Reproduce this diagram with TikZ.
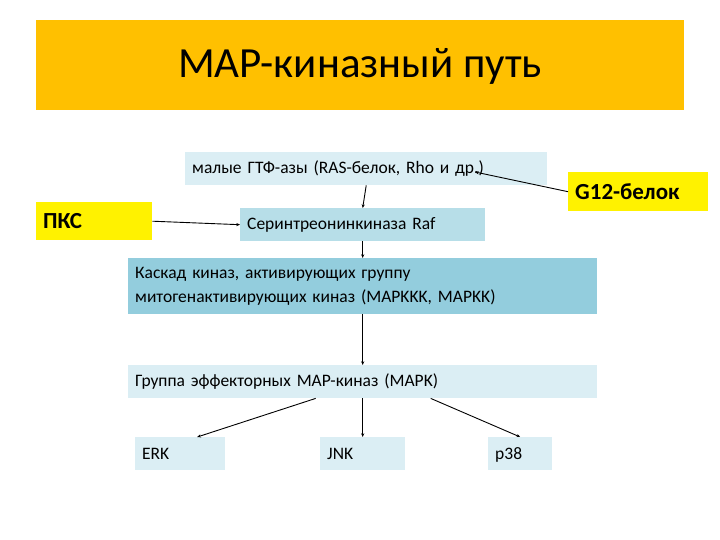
\documentclass[tikz,border=0pt]{standalone}
\usepackage{fontspec}
\setmainfont{Carlito}
\usepackage{xcolor}
\usetikzlibrary{arrows.meta}
\definecolor{gold}{HTML}{FFC000}
\definecolor{paleblue}{HTML}{DBEEF4}
\definecolor{midblue}{HTML}{B7DEE8}
\definecolor{deepblue}{HTML}{93CDDD}

\begin{document}
\begin{tikzpicture}[x=1pt,y=-1pt,font=\fontsize{17.5}{24}\selectfont,
  cell/.style={anchor=north west,inner xsep=7pt,inner ysep=0pt,align=left,fill=paleblue},
  tag/.style={cell,fill=yellow,font=\fontsize{23}{26}\selectfont\bfseries},
  link/.style={-{Stealth[length=1.3mm,width=1.1mm]},line width=0.9pt}]
  \useasboundingbox[fill=white] (0,0) rectangle (720,540);
  \fill[gold] (36,20) rectangle (684,110);
  \node[font=\fontsize{43}{46}\selectfont] (title) at (360,66) {MAP-киназный путь};
  % upper row
  \node[cell,text width=348pt,minimum height=33pt] (ras) at (185,152) {малые ГТФ-азы (RAS-белок, Rho и др.)};
  \node[tag,text width=126pt,minimum height=39pt] (g12) at (568,172) {G12-белок};
  \node[tag,text width=102pt,minimum height=38pt] (pkc) at (36,202) {ПКС};
  \node[cell,fill=midblue,text width=231pt,minimum height=33pt] (raf) at (240,208) {Серинтреонинкиназа Raf};
  % kinase cascade
  \node[cell,fill=deepblue,text width=455pt,minimum height=56pt] (cascade) at (128,258)
    {Каскад киназ, активирующих группу\\митогенактивирующих киназ (MAPKKK, MAPKK)};
  \node[cell,text width=455pt,minimum height=33pt] (mapk) at (128,365) {Группа эффекторных MAP-киназ (MAPK)};
  % effectors
  \node[cell,text width=76pt,minimum height=33pt] (erk) at (135,437) {ERK};
  \node[cell,text width=71pt,minimum height=33pt] (jnk) at (320,437) {JNK};
  \node[cell,text width=50pt,minimum height=33pt,text depth=0pt] (p38) at (488,437) {p38};
  \coordinate (rasin) at (475,172);
  \draw[link] (ras.south) -- (raf.north);
  \draw[link] (g12.west) -- (rasin);
  \draw[link] (pkc.east) -- (raf.west);
  \draw[link] (raf.south) -- (cascade.north);
  \draw[link] (cascade.south) -- (mapk.north);
  \draw[link] ([xshift=-47pt]mapk.south) -- ([xshift=17pt]erk.north);
  \draw[link] (mapk.south) -- (jnk.north);
  \draw[link] ([xshift=68pt]mapk.south) -- (p38.north);
\end{tikzpicture}
\end{document}
